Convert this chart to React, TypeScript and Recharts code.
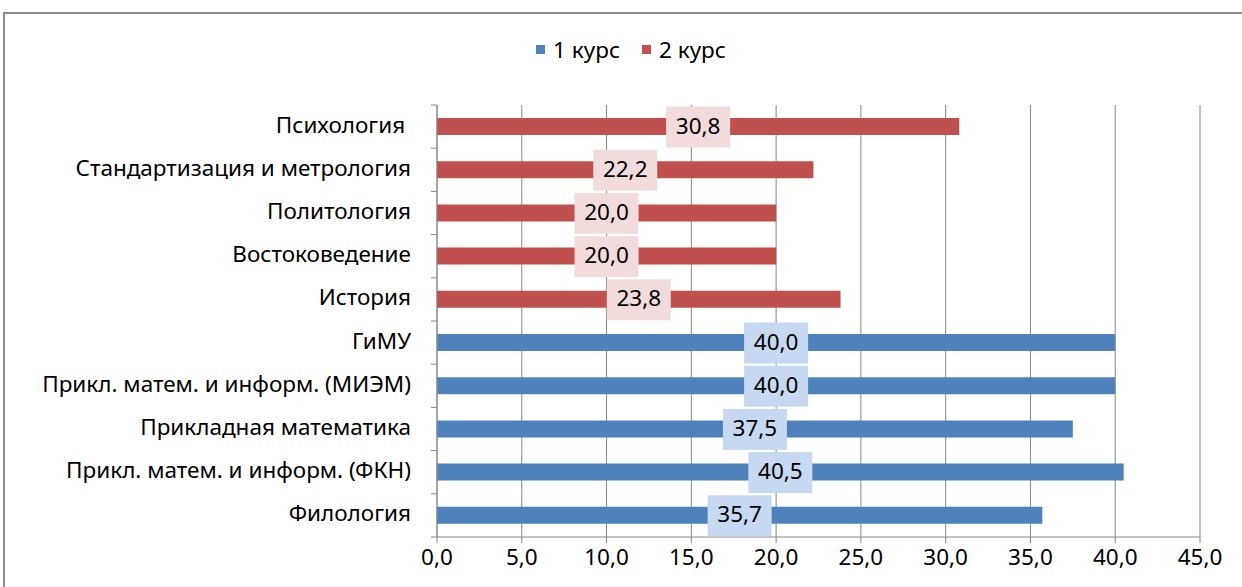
import { BarChart, Bar, XAxis, YAxis, CartesianGrid, Legend, LabelList } from "recharts";

const categories = [
  "Психология ",
  "Стандартизация и метрология",
  "Политология",
  "Востоковедение",
  "История",
  "ГиМУ",
  "Прикл. матем. и информ. (МИЭМ)",
  "Прикладная математика",
  "Прикл. матем. и информ. (ФКН)",
  "Филология",
];
const course1 = [null, null, null, null, null, 40.0, 40.0, 37.5, 40.5, 35.7];
const course2 = [30.8, 22.2, 20.0, 20.0, 23.8, null, null, null, null, null];
const xTicks = [0, 5, 10, 15, 20, 25, 30, 35, 40, 45];

const data = categories.map((name, i) => ({ name, k1: course1[i], k2: course2[i] }));

const W = 1242;
const H = 587;
const M = { top: 105, right: 42, bottom: 0, left: 0 };
const X_AXIS_H = 50;
const PLOT_H = H - M.top - M.bottom - X_AXIS_H;
const HALF_BAND = PLOT_H / categories.length / 2;
const FONT = "'Noto Sans', sans-serif";
const FS = 22.5;
const GRID = "#868686";

const fmt = (v: number) => v.toFixed(1).replace(".", ",");

const makeLabel = (bg: string) => (props: any) => {
  const { x, y, width, height, value } = props;
  if (value == null) return null;
  const cx = x + width / 2;
  const cy = y + height / 2;
  return (
    <g>
      <rect x={cx - 32} y={cy - 20} width={64} height={41} fill={bg} />
      <text x={cx} y={cy + 1} textAnchor="middle" dominantBaseline="middle" fontSize={FS} fontFamily={FONT} fill="#000">
        {fmt(value)}
      </text>
    </g>
  );
};

const CatTick = (props: any) => {
  const { x, y, payload, index, visibleTicksCount } = props;
  const ax = x + 26;
  return (
    <g>
      <line x1={ax - 6} x2={ax} y1={y - HALF_BAND} y2={y - HALF_BAND} stroke={GRID} />
      {index === visibleTicksCount - 1 && (
        <line x1={ax - 6} x2={ax} y1={y + HALF_BAND} y2={y + HALF_BAND} stroke={GRID} />
      )}
      <text
        x={x}
        y={y}
        textAnchor="end"
        dominantBaseline="middle"
        fontSize={FS}
        fontFamily={FONT}
        fill="#000"
        xmlSpace="preserve"
        style={{ whiteSpace: "pre" }}
      >
        {payload.value}
      </text>
    </g>
  );
};

const LegendContent = () => (
  <div style={{ display: "flex", justifyContent: "center", gap: 22, fontFamily: FONT, fontSize: FS, color: "#000", paddingLeft: 20 }}>
    {[
      ["1 курс", "#4F81BD"],
      ["2 курс", "#C0504D"],
    ].map(([label, c]) => (
      <span key={label} style={{ display: "flex", alignItems: "center" }}>
        <span style={{ width: 9, height: 9, background: c, marginRight: 8, display: "inline-block" }} />
        {label}
      </span>
    ))}
  </div>
);

export default function App() {
  return (
    <div style={{ position: "absolute", left: 0, top: 0, width: W, height: H, background: "#fff", overflow: "hidden" }}>
      <div style={{ position: "absolute", left: 3, top: 12, width: 1400, height: 800, border: "2px solid #8a8a8a" }} />
      <BarChart width={W} height={H} data={data} layout="vertical" margin={M} barSize={17}>
        <CartesianGrid horizontal={false} stroke={GRID} />
        <XAxis
          type="number"
          domain={[0, 45]}
          ticks={xTicks}
          interval={0}
          height={X_AXIS_H}
          stroke={GRID}
          tickSize={6}
          tickMargin={6}
          tickFormatter={fmt}
          tick={{ fill: "#000", fontSize: FS, fontFamily: FONT }}
        />
        <YAxis
          type="category"
          dataKey="name"
          width={437}
          stroke={GRID}
          tickLine={false}
          tickSize={0}
          tickMargin={26}
          interval={0}
          tick={<CatTick />}
        />
        <Legend verticalAlign="middle" wrapperStyle={{ top: 34, left: 0, width: W }} content={<LegendContent />} />
        <Bar dataKey="k1" name="1 курс" stackId="a" fill="#4F81BD" isAnimationActive={false}>
          <LabelList dataKey="k1" content={makeLabel("#C6D9F1")} />
        </Bar>
        <Bar dataKey="k2" name="2 курс" stackId="a" fill="#C0504D" isAnimationActive={false}>
          <LabelList dataKey="k2" content={makeLabel("#F2DCDB")} />
        </Bar>
      </BarChart>
    </div>
  );
}
